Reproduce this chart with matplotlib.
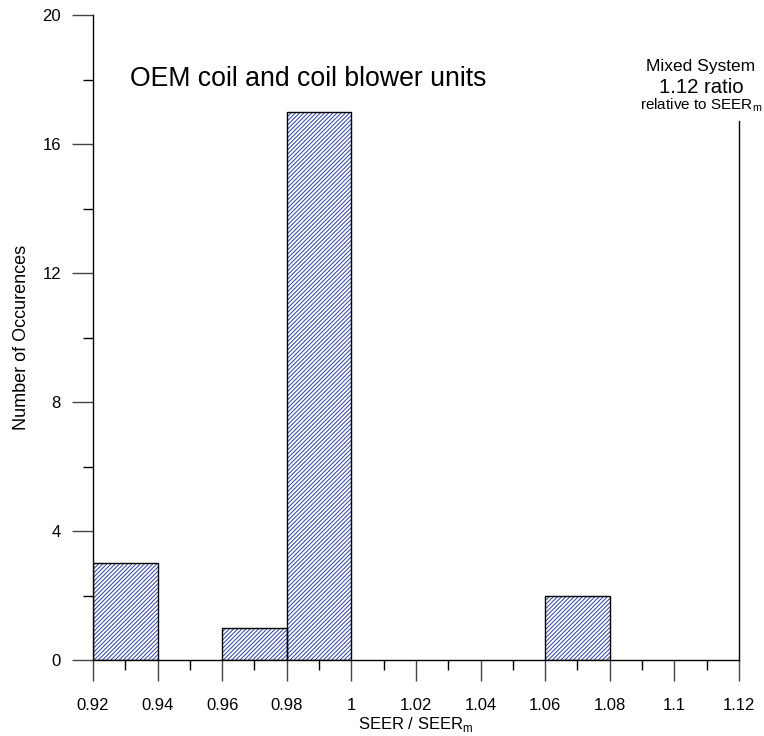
import matplotlib
matplotlib.use("Agg")
import matplotlib.pyplot as plt
from matplotlib.ticker import MultipleLocator

plt.rcParams['font.family'] = ['Liberation Sans', 'DejaVu Sans']
plt.rcParams['mathtext.fontset'] = 'custom'
plt.rcParams['mathtext.rm'] = 'Liberation Sans'
plt.rcParams['hatch.linewidth'] = 0.7

# Histogram bins (left edges) and counts
bin_left = [0.92, 0.96, 0.98, 1.06]
bin_width = 0.02
counts = [3, 1, 17, 2]

# Reference marker
ref_ratio = 1.12
ref_height = 16.7

x_ticks = [0.92, 0.94, 0.96, 0.98, 1.00, 1.02, 1.04, 1.06, 1.08, 1.10, 1.12]
x_tick_labels = ["0.92", "0.94", "0.96", "0.98", "1", "1.02", "1.04", "1.06", "1.08", "1.1", "1.12"]
y_ticks = [0, 4, 8, 12, 16, 20]

px = 72 / 100  # one pixel in points at 100 dpi

fig = plt.figure(figsize=(7.64, 7.36), dpi=100)
ax = fig.add_axes([93/764, 76/736, (739-93)/764, (660-15)/736])

# hatched fill in blue, then black outline on top
ax.bar(bin_left, counts, width=bin_width, align='edge', facecolor='white',
       edgecolor='#2b3f9e', linewidth=0, hatch='////////', zorder=2)
ax.bar(bin_left, counts, width=bin_width, align='edge', fill=False,
       edgecolor='black', linewidth=1.0, zorder=3)

ax.plot([ref_ratio, ref_ratio], [0, ref_height], color='black', lw=1.0, clip_on=False)

ax.set_xlim(0.92, 1.12)
ax.set_ylim(0, 20)
ax.spines['top'].set_visible(False)
ax.spines['right'].set_visible(False)
for s in ('left', 'bottom'):
    ax.spines[s].set_linewidth(1.0)

ax.set_xticks(x_ticks)
ax.set_xticklabels(x_tick_labels)
ax.xaxis.set_minor_locator(MultipleLocator(0.01))
ax.set_yticks(y_ticks)
ax.yaxis.set_minor_locator(MultipleLocator(2))
ax.tick_params(which='major', length=21*px, width=1.0, direction='out', labelsize=12,
               color='#444444')
ax.tick_params(which='minor', length=10*px, width=1.0, direction='out', color='black')
ax.tick_params(axis='x', which='major', pad=12.5)
ax.tick_params(axis='y', which='major', pad=8)

ax.set_xlabel("SEER / SEER$_\\mathregular{m}$", fontsize=12, labelpad=1)
ax.set_ylabel("Number of Occurences", fontsize=13, labelpad=9)

ax.text(0.058, 0.90, "OEM coil and coil blower units", transform=ax.transAxes,
        fontsize=19.2, ha='left', va='center')

ax.text(1.1082, 18.4, "Mixed System", fontsize=12.5, ha='center', va='center')
ax.text(1.1082, 17.75, "1.12 ratio", fontsize=14.7, ha='center', va='center')
ax.text(1.1082, 17.2, "relative to SEER$_\\mathregular{m}$", fontsize=11, ha='center', va='center')

fig.savefig("out.png", dpi=100)
